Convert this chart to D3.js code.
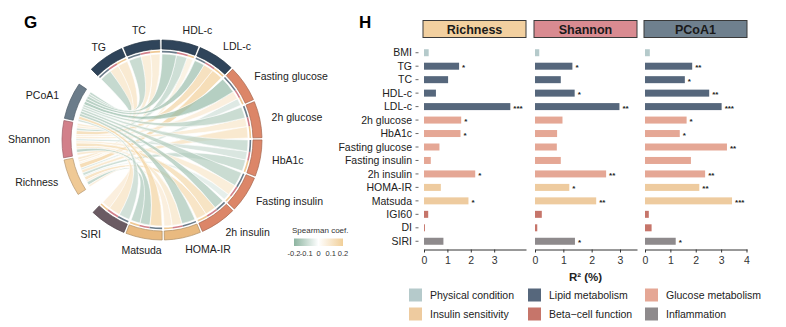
<!DOCTYPE html>
<html>
<head>
<meta charset="utf-8">
<script src="https://d3js.org/d3.v7.min.js"></script>
<style>
body { margin: 0; background: #fff; }
svg { font-family: "Liberation Sans", Arial, Helvetica, sans-serif; }
</style>
</head>
<body>
<svg id="fig" width="786" height="327"></svg>
<script>
// ---- chord panel (G) ----
var outcomes = ["Richness", "Shannon", "PCoA1"];
var clinical = ["TG", "TC", "HDL-c", "LDL-c", "Fasting glucose", "2h glucose", "HbA1c",
    "Fasting insulin", "2h insulin", "HOMA-IR", "Matsuda", "SIRI"];
// spearman coefficients, columns follow `clinical`
var coefRichness = [0.12, 0.10, 0.07, 0.19, -0.08, 0.13, -0.12, -0.06, 0.15, 0.09, -0.14, 0.09];
var coefShannon  = [0.11, 0.10, -0.12, 0.17, 0.09, 0.10, -0.09, 0.10, 0.16, 0.11, -0.15, 0.12];
var coefPCoA1    = [-0.14, -0.13, -0.16, -0.17, -0.18, -0.13, -0.12, -0.13, -0.15, -0.15, 0.18, -0.11];
var outcomeColors = ["#efc995", "#d2808a", "#6b7c8a"];
var clinicalColors = ["#2f445a", "#2f445a", "#2f445a", "#2f445a", "#dc8668", "#dc8668", "#dc8668",
    "#dc8668", "#dc8668", "#e9ba80", "#e9ba80", "#6b5b63"];
var coefTicks = [-0.2, -0.1, 0, 0.1, 0.2];

// ---- bar panel (H) ----
var barRows = ["BMI", "TG", "TC", "HDL-c", "LDL-c", "2h glucose", "HbA1c", "Fasting glucose",
    "Fasting insulin", "2h insulin", "HOMA-IR", "Matsuda", "IGI60", "DI", "SIRI"];
var rowGroup = [0, 1, 1, 1, 1, 2, 2, 2, 2, 2, 3, 3, 4, 4, 5];
var r2Richness = [0.2, 1.5, 1.03, 0.51, 3.69, 1.59, 1.56, 0.66, 0.29, 2.19, 0.72, 1.9, 0.18, 0.04, 0.83];
var sigRichness = ["", "*", "", "", "***", "*", "*", "", "", "*", "", "*", "", "", ""];
var r2Shannon = [0.15, 1.32, 0.91, 1.4, 2.98, 0.97, 0.78, 0.77, 0.91, 2.51, 1.21, 2.16, 0.24, 0.08, 1.41];
var sigShannon = ["", "*", "", "*", "**", "", "", "", "", "**", "*", "**", "", "", "*"];
var r2PCoA1 = [0.19, 1.86, 1.57, 2.53, 3.02, 1.64, 1.37, 3.23, 1.81, 2.37, 2.14, 3.43, 0.15, 0.26, 1.21];
var sigPCoA1 = ["", "**", "*", "**", "***", "*", "*", "**", "", "**", "**", "***", "", "", "*"];
var groupNames = ["Physical condition", "Lipid metabolism", "Glucose metabolism",
    "Insulin sensitivity", "Beta\u2212cell function", "Inflammation"];
var groupColors = ["#b5cacb", "#56677c", "#e5a795", "#eecb9f", "#c6756a", "#8e8a8c"];
var panelNames = ["Richness", "Shannon", "PCoA1"];
var panelFill = ["#f2d0a0", "#d98b91", "#6f808e"];
var panelMax = [4.36, 3.6, 4.02];
var panelTicks = [[0, 1, 2, 3], [0, 1, 2, 3], [0, 1, 2, 3, 4]];

var svg = d3.select('#fig');
var toRad = Math.PI / 180;

// panel letters
svg.append('text').attr('x', 24).attr('y', 28).style('font-size', '17px').style('font-weight', 'bold').text('G');
svg.append('text').attr('x', 359).attr('y', 28).style('font-size', '17px').style('font-weight', 'bold').text('H');

// ---------- chord diagram ----------
var cx = 162, cy = 140;
var pad = 1.3;
function spread(n, a0, a1) {
    var size = (a1 - a0 - pad * (n - 1)) / n;
    return d3.range(n).map(i => [a0 + i * (size + pad), a0 + i * (size + pad) + size]);
}
var clinAngles = spread(clinical.length, -45, 223.6);
var outAngles = spread(outcomes.length, 237, 304);
var coefs = [coefRichness, coefShannon, coefPCoA1];

// slots: clinical side ordered PCoA1, Shannon, Richness; outcome side ordered SIRI .. TG
var links = [];
outcomes.forEach((o, i) => clinical.forEach((c, j) => links.push({ i: i, j: j, value: coefs[i][j] })));
function linkOf(i, j) { return links[i * clinical.length + j]; }

clinical.forEach((c, j) => {
    var a0 = clinAngles[j][0], a1 = clinAngles[j][1];
    var order = [2, 1, 0];
    var tot = d3.sum(order, i => Math.abs(coefs[i][j]));
    var a = a0;
    order.forEach(i => {
        var w = (a1 - a0) * Math.abs(coefs[i][j]) / tot;
        linkOf(i, j).clin = [a, a + w];
        a += w;
    });
});
outcomes.forEach((o, i) => {
    var a0 = outAngles[i][0], a1 = outAngles[i][1];
    var order = d3.range(clinical.length).reverse();
    var tot = d3.sum(order, j => Math.abs(coefs[i][j]));
    var a = a0;
    order.forEach(j => {
        var w = (a1 - a0) * Math.abs(coefs[i][j]) / tot;
        linkOf(i, j).out = [a, a + w];
        a += w;
    });
});

var coefColor = d3.scaleLinear()
    .domain([-0.2, 0, 0.2])
    .range(["#8db4a0", "#ffffff", "#f1cf98"])
    .clamp(true);

let cg = svg.append('g').attr('transform', `translate(${cx}, ${cy})`);

let ribbon = d3.ribbon().radius(86);
cg.selectAll('path.link')
    .data(links)
    .join('path')
    .attr('class', 'link')
    .attr('d', d => ribbon({
        source: { startAngle: d.out[0] * toRad, endAngle: d.out[1] * toRad },
        target: { startAngle: d.clin[0] * toRad, endAngle: d.clin[1] * toRad }
    }))
    .style('fill', d => coefColor(d.value))
    .style('fill-opacity', 0.72)
    .style('stroke', '#ffffff')
    .style('stroke-width', 0.6);

// thin track under clinical sectors, coloured by outcome
let thin = d3.arc().innerRadius(87.6).outerRadius(89.2);
cg.selectAll('path.track')
    .data(links)
    .join('path')
    .attr('class', 'track')
    .attr('d', d => thin({ startAngle: d.clin[0] * toRad, endAngle: d.clin[1] * toRad }))
    .style('fill', d => outcomeColors[d.i]);

// outer sectors
let sector = d3.arc().innerRadius(91).outerRadius(100);
var sectors = clinical.map((c, j) => ({ name: c, a: clinAngles[j], color: clinicalColors[j] }))
    .concat(outcomes.map((o, i) => ({ name: o, a: outAngles[i], color: outcomeColors[i] })));
cg.selectAll('path.sector')
    .data(sectors)
    .join('path')
    .attr('class', 'sector')
    .attr('d', d => sector({ startAngle: d.a[0] * toRad, endAngle: d.a[1] * toRad }))
    .style('fill', d => d.color)
    .style('stroke', d => d3.color(d.color).darker(0.8))
    .style('stroke-width', 0.7);

cg.selectAll('text.sector-label')
    .data(sectors)
    .join('text')
    .attr('class', 'sector-label')
    .each(function (d) {
        var mid = (d.a[0] + d.a[1]) / 2;
        var n = ((mid % 360) + 360) % 360;
        var r = 112;
        d3.select(this)
            .attr('x', r * Math.sin(mid * toRad))
            .attr('y', -r * Math.cos(mid * toRad))
            .attr('text-anchor', (n > 5 && n < 175) ? 'start' : (n > 200 && n < 320) ? 'end' : 'middle');
    })
    .attr('dy', '0.35em')
    .style('font-size', '10.5px')
    .style('fill', '#222')
    .text(d => d.name);

// colour key
var keyX = d3.scaleLinear().domain([-0.2, 0.2]).range([294, 343]);
svg.append('text').attr('x', 292).attr('y', 233).style('font-size', '8px').style('fill', '#333').text('Spearman coef.');
let grad = svg.append('defs').append('linearGradient').attr('id', 'coefGrad');
coefTicks.forEach((t, k) => {
    grad.append('stop')
        .attr('offset', (k / (coefTicks.length - 1) * 100) + '%')
        .attr('stop-color', coefColor(t));
});
svg.append('rect')
    .attr('x', keyX(-0.2)).attr('y', 238.5)
    .attr('width', keyX(0.2) - keyX(-0.2)).attr('height', 7.5)
    .style('fill', 'url(#coefGrad)');
svg.selectAll('text.key-tick')
    .data(coefTicks)
    .join('text')
    .attr('class', 'key-tick')
    .attr('x', d => keyX(d))
    .attr('y', 255.5)
    .attr('text-anchor', 'middle')
    .style('font-size', '7.5px')
    .style('fill', '#333')
    .text(d => d);

// ---------- R2 bar panels ----------
var panelLeft = [423, 534, 644];
var panelW = 103;
var r2s = [r2Richness, r2Shannon, r2PCoA1];
var sigs = [sigRichness, sigShannon, sigPCoA1];

let yBar = d3.scalePoint()
    .domain(barRows)
    .range([46, 248])
    .padding(0.5);
var barH = 7;

// row labels
svg.selectAll('text.row-label')
    .data(barRows)
    .join('text')
    .attr('class', 'row-label')
    .attr('x', 412)
    .attr('y', d => yBar(d))
    .attr('dy', '0.35em')
    .attr('text-anchor', 'end')
    .style('font-size', '10.5px')
    .style('fill', '#222')
    .text(d => d);
svg.selectAll('line.row-tick')
    .data(barRows)
    .join('line')
    .attr('class', 'row-tick')
    .attr('x1', 415.5).attr('x2', 418.5)
    .attr('y1', d => yBar(d)).attr('y2', d => yBar(d))
    .style('stroke', '#444')
    .style('stroke-width', 0.8);

panelNames.forEach((name, p) => {
    var x0 = panelLeft[p];
    let xScale = d3.scaleLinear()
        .domain([0, panelMax[p]])
        .range([x0 + 1, x0 + panelW]);
    let g = svg.append('g');

    // strip header
    g.append('rect')
        .attr('x', x0).attr('y', 20.5)
        .attr('width', panelW).attr('height', 17)
        .style('fill', panelFill[p])
        .style('stroke', '#3a3a3a')
        .style('stroke-width', 1);
    g.append('text')
        .attr('x', x0 + panelW / 2).attr('y', 29)
        .attr('dy', '0.36em')
        .attr('text-anchor', 'middle')
        .style('font-size', '12.5px')
        .style('font-weight', 'bold')
        .style('fill', '#1a1a1a')
        .text(name);

    g.selectAll('rect.bar')
        .data(barRows)
        .join('rect')
        .attr('class', 'bar')
        .attr('x', xScale(0))
        .attr('y', d => yBar(d) - barH / 2)
        .attr('width', (d, k) => xScale(r2s[p][k]) - xScale(0))
        .attr('height', barH)
        .style('fill', (d, k) => groupColors[rowGroup[k]]);

    g.selectAll('text.sig')
        .data(barRows)
        .join('text')
        .attr('class', 'sig')
        .attr('x', (d, k) => xScale(r2s[p][k]) + 3)
        .attr('y', d => yBar(d) + 4)
        .style('font-size', '8px')
        .style('font-weight', 'bold')
        .style('fill', '#222')
        .text((d, k) => sigs[p][k]);

    let xAxis = g.append('g')
        .attr('transform', 'translate(0, 249.5)')
        .call(d3.axisBottom(xScale)
            .tickValues(panelTicks[p])
            .tickFormat(d3.format('d'))
            .tickSize(3)
            .tickSizeOuter(0)
            .tickPadding(4));
    xAxis.select('.domain').style('stroke', '#333');
    xAxis.selectAll('.tick line').style('stroke', '#333');
    xAxis.selectAll('.tick text')
        .style('font-size', '10.5px')
        .style('font-family', '"Liberation Sans", Arial, sans-serif')
        .style('fill', '#333');
});

svg.append('text')
    .attr('x', panelLeft[1] + panelW / 2)
    .attr('y', 281)
    .attr('text-anchor', 'middle')
    .style('font-size', '11.5px')
    .style('font-weight', 'bold')
    .style('fill', '#222')
    .text('R\u00b2 (%)');

// group legend
var legX = [409, 528, 645];
var legY = [295, 314];
groupNames.forEach((name, k) => {
    var lx = legX[k % 3], ly = legY[Math.floor(k / 3)];
    svg.append('rect')
        .attr('x', lx).attr('y', ly - 6.5)
        .attr('width', 13).attr('height', 13)
        .style('fill', groupColors[k]);
    svg.append('text')
        .attr('x', lx + 21).attr('y', ly)
        .attr('dy', '0.35em')
        .style('font-size', '10.5px')
        .style('fill', '#222')
        .text(name);
});
</script>
</body>
</html>
